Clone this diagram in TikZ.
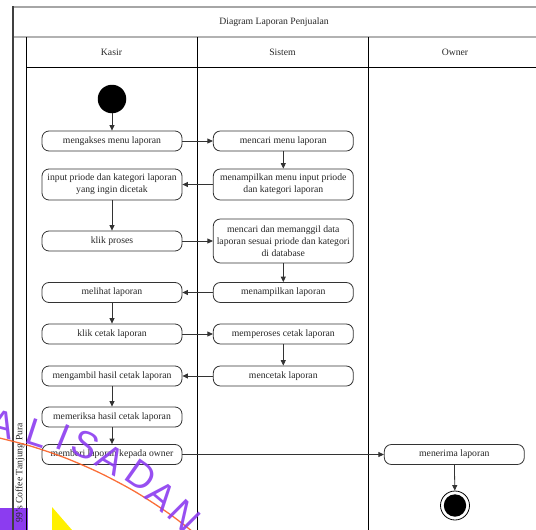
\documentclass[tikz,border=0pt]{standalone}
\usepackage{fontspec}
\setmainfont{Liberation Serif}
\newfontfamily\markfont{Liberation Sans}
\usetikzlibrary{arrows.meta}

\definecolor{wmpurple}{RGB}{140,60,240}
\definecolor{wmorange}{RGB}{250,95,35}
\definecolor{wmyellow}{RGB}{255,240,0}

\begin{document}
\begin{tikzpicture}[x=1pt,y=-1pt,
  txt/.style={inner sep=0pt, font=\fontsize{9.7}{12.3}\selectfont, text=black!85},
  act/.style={txt, draw=black!80, line width=0.8pt, rounded corners=7pt,
    minimum width=140pt, minimum height=20pt, align=center},
  flow/.style={draw=black!80, line width=0.8pt, -{Triangle[length=5.5pt,width=5pt]}},
  lane/.style={line width=0.8pt, black},
  wm/.style={text=wmpurple, font=\markfont\fontsize{38}{38}\selectfont, inner sep=0pt, opacity=0.9}
]
\useasboundingbox (0,0) rectangle (536,530);
\clip (0,0) rectangle (536,530);

% background marks of the emblem
\fill[wmpurple] (0,508) rectangle (28,530);
\fill[wmyellow] (52,507) -- (52,530) -- (72,530) -- cycle;

% swimlane frame
\draw[gray!70, line width=1.3pt] (13,7) -- (560,7);
\draw[gray!60, line width=1.3pt] (13,37) -- (560,37);
\draw[black!75, line width=2pt] (13,6.4) -- (13,560);
\draw[lane] (26,37) -- (26,560);
\draw[lane] (26,67) -- (560,67);
\draw[lane] (197,37) -- (197,560);
\draw[lane] (368,37) -- (368,560);

\node[txt] (title) at (274,22) {Diagram Laporan Penjualan};
\node[txt] (hkasir) at (111.5,52) {Kasir};
\node[txt] (hsistem) at (282.5,52) {Sistem};
\node[txt] (howner) at (455,52) {Owner};
\node[txt, rotate=90, anchor=east] (pool) at (20,423) {99's Coffee Tanjung Pura};

% Kasir
\node[circle, fill=black, minimum size=28.5pt, inner sep=0pt] (start) at (112,99) {};
\node[act] (k1) at (112,141) {mengakses menu laporan};
\node[act, minimum height=31pt] (k2) at (112,184.5) {input priode dan kategori laporan\\yang ingin dicetak};
\node[act] (k3) at (112,241) {klik proses};
\node[act] (k4) at (112,292.5) {melihat laporan};
\node[act] (k5) at (112,334) {klik cetak laporan};
\node[act] (k6) at (112,376) {mengambil hasil cetak laporan};
\node[act] (k7) at (112,417) {memeriksa hasil cetak laporan};
\node[act] (k8) at (112,454.5) {memberi laporan kepada owner};

% Sistem
\node[act] (s1) at (283.3,141) {mencari menu laporan};
\node[act, minimum height=31pt] (s2) at (283.3,184.5) {menampilkan menu input priode\\dan kategori laporan};
\node[act, minimum height=44pt] (s3) at (283.3,241) {mencari dan memanggil data\\laporan sesuai priode dan kategori\\di database};
\node[act] (s4) at (283.3,292.5) {menampilkan laporan};
\node[act] (s5) at (283.3,334) {memperoses cetak laporan};
\node[act] (s6) at (283.3,376) {mencetak laporan};

% Owner
\node[act] (o1) at (454.3,454.5) {menerima laporan};
\node[circle, draw=black, line width=0.8pt, minimum size=29pt, inner sep=0pt] (finish) at (455,505.5) {};
\node[circle, fill=black, minimum size=22.4pt, inner sep=0pt] (finishdot) at (finish) {};

% control flow
\draw[flow] (start) -- (k1);
\draw[flow] (k1) -- (s1);
\draw[flow] (s1) -- (s2);
\draw[flow] (s2) -- (k2);
\draw[flow] (k2) -- (k3);
\draw[flow] (k3) -- (s3);
\draw[flow] (s3) -- (s4);
\draw[flow] (s4) -- (k4);
\draw[flow] (k4) -- (k5);
\draw[flow] (k5) -- (s5);
\draw[flow] (s5) -- (s6);
\draw[flow] (s6) -- (k6);
\draw[flow] (k6) -- (k7);
\draw[flow] (k7) -- (k8);
\draw[flow] (k8) -- (o1);
\draw[flow] (o1) -- (finish);

% emblem lettering and ring
\draw[wmorange, line width=1.3pt, opacity=0.9] plot[smooth] coordinates
  {(-5,436.9) (30,445.9) (65,457.8) (100,473.0) (135,491.6) (170,514.3) (200,537.5)};
\node[wm, rotate=-15] (wa1) at (2,424) {A};
\node[wm, rotate=-18] (wl) at (38,433) {L};
\node[wm, rotate=-22] (wi) at (63,437) {I};
\node[wm, rotate=-25] (ws) at (86,445) {S};
\node[wm, rotate=-30] (wa2) at (111,460) {A};
\node[wm, rotate=-35] (wd) at (141,476) {D};
\node[wm, rotate=-40] (wa3) at (162,496) {A};
\node[wm, rotate=-45] (wn) at (184,516) {N};
\end{tikzpicture}
\end{document}
